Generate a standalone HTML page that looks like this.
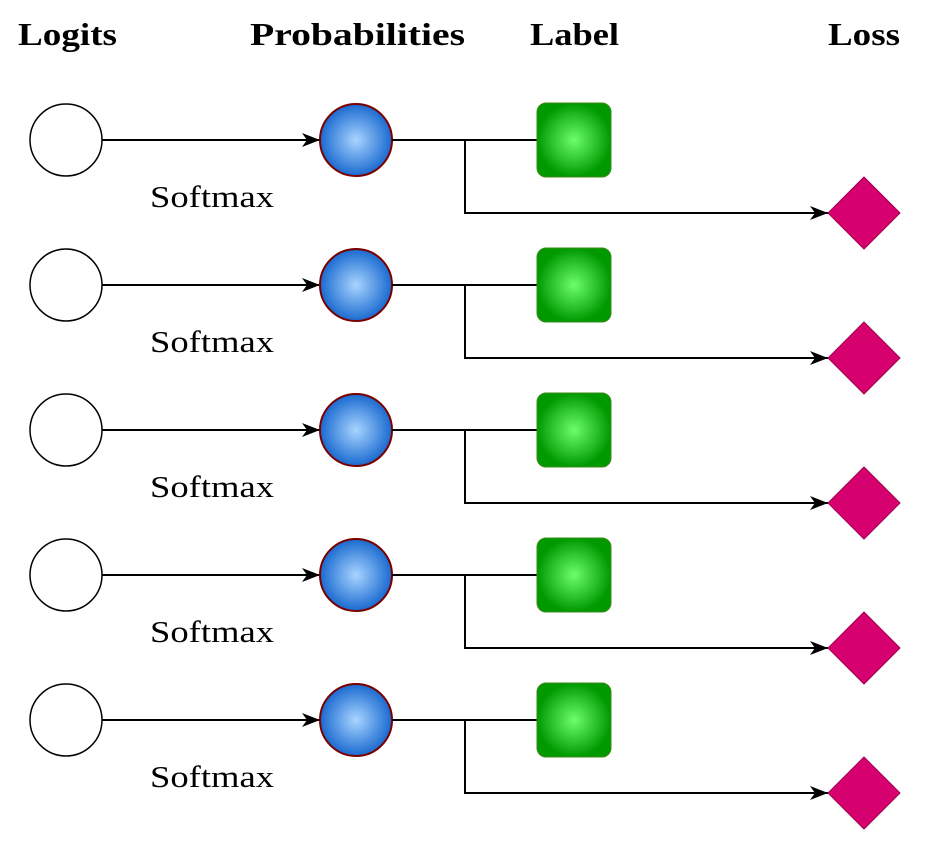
<!DOCTYPE html>
<html><head><style>body{margin:0;background:#fff}</style></head><body>
<svg width="928" height="850" xmlns="http://www.w3.org/2000/svg" font-family="Liberation Serif, serif">
<defs>
<radialGradient id="b"><stop offset="0" stop-color="#a8d4ff"/><stop offset="1" stop-color="#1a6ad0"/></radialGradient>
<radialGradient id="g"><stop offset="0" stop-color="#6cff6c"/><stop offset="1" stop-color="#009900"/></radialGradient>
<marker id="a" markerWidth="18" markerHeight="14" refX="18" refY="7" orient="auto" markerUnits="userSpaceOnUse"><path d="M0,0 L18,7 L0,14 L5,7 z" fill="#000"/></marker>
</defs>
<g font-weight="bold" font-size="32" fill="#000" lengthAdjust="spacingAndGlyphs">
<text x="18" y="45" textLength="99" lengthAdjust="spacingAndGlyphs">Logits</text>
<text x="250" y="45" textLength="215" lengthAdjust="spacingAndGlyphs">Probabilities</text>
<text x="530" y="45" textLength="89" lengthAdjust="spacingAndGlyphs">Label</text>
<text x="828" y="45" textLength="72" lengthAdjust="spacingAndGlyphs">Loss</text>
</g>
<g id="r">
<circle cx="66" cy="140" r="36" fill="#fff" stroke="#000" stroke-width="1.5"/>
<line x1="102" y1="140" x2="320" y2="140" stroke="#000" stroke-width="2" marker-end="url(#a)"/>
<text x="150" y="207" font-size="31" textLength="124" lengthAdjust="spacingAndGlyphs">Softmax</text>
<circle cx="356" cy="140" r="36" fill="url(#b)" stroke="#7a0000" stroke-width="2"/>
<line x1="392" y1="140" x2="537" y2="140" stroke="#000" stroke-width="2"/>
<polyline points="465,140 465,213 828,213" fill="none" stroke="#000" stroke-width="2" marker-end="url(#a)"/>
<rect x="537" y="103" width="74" height="74" rx="9" fill="url(#g)" stroke="#3a8a1a" stroke-width="1"/>
<polygon points="864,177 900,213 864,249 828,213" fill="#d6006e" stroke="#a00050" stroke-width="1"/>
</g>
<use href="#r" y="145"/>
<use href="#r" y="290"/>
<use href="#r" y="435"/>
<use href="#r" y="580"/>
</svg>
</body></html>
